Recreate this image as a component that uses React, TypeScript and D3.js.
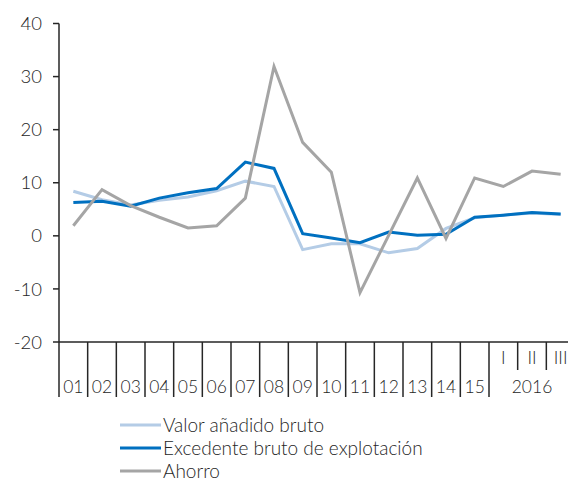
import React from "react";
import * as d3 from "d3";

const categories = ["01","02","03","04","05","06","07","08","09","10","11","12","13","14","15","I","II","III"];
const valorAnadido = [8.4, 6.8, 5.8, 6.7, 7.3, 8.5, 10.3, 9.3, -2.6, -1.5, -1.5, -3.2, -2.4, 1.4, 3.4, 3.9, 4.3, 4.0];
const excedente = [6.3, 6.5, 5.6, 7.1, 8.1, 8.9, 13.9, 12.7, 0.4, -0.4, -1.3, 0.7, 0.1, 0.3, 3.5, 3.9, 4.4, 4.1];
const ahorro = [1.9, 8.7, 5.7, 3.5, 1.5, 1.9, 7.1, 31.9, 17.6, 12.0, -10.7, 0.1, 10.9, -0.5, 10.9, 9.3, 12.2, 11.6];
const yTicks = [40, 30, 20, 10, 0, -10, -20];
const yearLabel = "2016";

const seriesList = [
  { name: "Valor añadido bruto", values: valorAnadido, color: "#b4cce6" },
  { name: "Excedente bruto de explotación", values: excedente, color: "#0070c0" },
  { name: "Ahorro", values: ahorro, color: "#a5a5a5" },
];

const W = 568, H = 481;
const left = 59, right = 575, top = 23.5, bottom = 342;
const font = "Lato, 'DejaVu Sans', sans-serif";
const textColor = "#262626";

export default function App() {
  const x = d3.scaleBand<string>().domain(categories).range([left, right]);
  const y = d3.scaleLinear().domain([-20, 40]).range([bottom, top]);
  const cx = (c: string) => (x(c) as number) + x.bandwidth() / 2;
  const line = d3.line<number>()
    .x((_, i) => cx(categories[i]))
    .y((d) => y(d));

  const quarterStart = categories.indexOf("I");
  const boundaries = categories.map((c) => x(c) as number);
  const yearCenter = ((x("I") as number) + (x("III") as number) + x.bandwidth()) / 2;

  return (
    <svg width={W} height={H} style={{ position: "absolute", left: 0, top: 0, background: "#fff" }}>
      {/* y axis */}
      <line x1={left} x2={left} y1={top} y2={bottom} stroke="#262626" strokeWidth={1.5} />
      {yTicks.map((t) => (
        <g key={t}>
          <line x1={left - 6} x2={left} y1={y(t)} y2={y(t)} stroke="#262626" strokeWidth={1.5} />
          <text x={42} y={y(t)} dy="0.36em" textAnchor="end" fontFamily={font} fontWeight={300} fontSize={18.5} fill={textColor}>{t}</text>
        </g>
      ))}
      {/* x axis */}
      <line x1={left} x2={W} y1={bottom} y2={bottom} stroke="#262626" strokeWidth={1.5} />
      {boundaries.map((b, i) => {
        const isQuarterInner = i > quarterStart;
        return (
          <line key={i} x1={b} x2={b} y1={bottom} y2={isQuarterInner ? 370 : 397} stroke="#262626" strokeWidth={1.5} />
        );
      })}
      {categories.map((c, i) => (
        <text key={c} x={cx(c)} y={i < quarterStart ? 387 : 358} dy="0.36em" textAnchor="middle" fontFamily={font} fontWeight={300} fontSize={17.5} fill={textColor}>{c}</text>
      ))}
      <text x={yearCenter} y={387} dy="0.36em" textAnchor="middle" fontFamily={font} fontWeight={300} fontSize={17.5} fill={textColor}>{yearLabel}</text>

      {/* lines */}
      {seriesList.map((s) => (
        <path key={s.name} d={line(s.values) as string} fill="none" stroke={s.color} strokeWidth={3} strokeLinejoin="miter" />
      ))}

      {/* legend */}
      {seriesList.map((s, i) => {
        const ly = 425 + i * 23;
        return (
          <g key={s.name}>
            <line x1={120} x2={161} y1={ly} y2={ly} stroke={s.color} strokeWidth={3} />
            <text x={163} y={ly} dy="0.36em" fontFamily={font} fontWeight={300} fontSize={19} fill={textColor}>{s.name}</text>
          </g>
        );
      })}
    </svg>
  );
}
